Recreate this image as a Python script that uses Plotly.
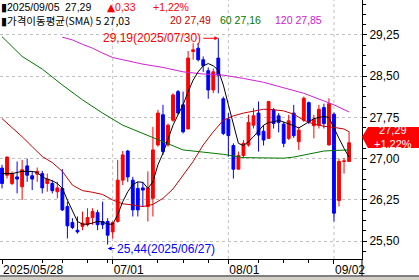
import plotly.graph_objects as go

# ---------------- data ----------------
open_ = [26.83, 26.70, 26.55, 26.67, 26.49, 26.87, 26.69, 26.72, 26.73, 26.55,
         26.55, 26.40, 26.46, 26.13, 25.84, 25.70, 25.77, 25.80, 25.93, 26.02,
         25.86, 25.86, 25.67, 25.86, 26.61, 27.14, 26.61, 26.46, 26.47, 26.13,
         26.28, 27.25, 27.80, 27.25, 27.70, 28.22, 27.98, 27.54, 28.95, 29.01,
         28.80, 28.60, 28.25, 28.83, 28.09, 27.72, 27.24, 26.81, 27.06, 27.25,
         27.61, 27.83, 27.50, 27.37, 27.89, 27.78, 27.63, 27.37, 27.83, 27.31,
         27.70, 28.02, 27.60, 27.61, 27.93, 27.25, 27.81, 26.24, 26.95, 26.95]
high = [26.89, 27.04, 26.77, 26.95, 26.98, 27.00, 26.77, 26.84, 26.78, 26.73,
        26.61, 26.58, 26.81, 26.22, 25.92, 25.95, 26.04, 26.10, 26.10, 26.07,
        26.22, 25.92, 25.86, 26.98, 27.14, 27.16, 26.67, 26.58, 26.58, 26.77,
        27.58, 27.89, 27.98, 27.64, 28.19, 28.25, 28.22, 28.96, 29.10, 29.10,
        28.86, 28.66, 28.64, 29.19, 28.13, 27.83, 27.28, 27.13, 27.34, 27.80,
        27.92, 28.04, 27.61, 28.05, 27.92, 27.83, 27.67, 27.80, 27.98, 27.58,
        28.13, 28.04, 27.80, 27.98, 28.00, 28.10, 27.84, 27.00, 27.01, 27.49]
low = [26.46, 26.64, 26.52, 26.37, 26.25, 26.58, 26.43, 26.58, 26.37, 26.40,
       26.37, 26.28, 26.05, 25.55, 25.72, 25.64, 25.70, 25.77, 25.80, 25.70,
       25.72, 25.44, 25.55, 25.84, 26.52, 26.58, 25.95, 25.95, 26.13, 25.86,
       25.95, 27.22, 27.07, 27.22, 27.67, 27.80, 27.46, 27.54, 28.80, 28.77,
       28.58, 28.09, 28.19, 28.19, 27.43, 27.04, 26.64, 26.80, 27.01, 27.22,
       27.55, 27.13, 27.24, 27.36, 27.55, 27.48, 27.21, 27.34, 27.38, 27.16,
       27.67, 27.63, 27.37, 27.55, 27.55, 27.24, 25.86, 26.13, 26.73, 26.95]
close = [26.55, 27.03, 26.73, 26.63, 26.80, 26.70, 26.63, 26.77, 26.47, 26.63,
         26.42, 26.47, 26.07, 25.78, 25.75, 25.67, 25.83, 25.93, 26.04, 25.80,
         25.80, 25.61, 25.84, 26.61, 27.07, 26.67, 26.07, 26.07, 26.43, 26.47,
         27.16, 27.83, 27.13, 27.61, 28.16, 27.83, 27.49, 28.83, 28.98, 28.80,
         28.69, 28.25, 28.58, 28.52, 27.46, 27.42, 26.81, 27.06, 27.28, 27.66,
         27.78, 27.43, 27.34, 28.04, 27.64, 27.66, 27.28, 27.69, 27.42, 27.52,
         28.10, 27.67, 27.72, 27.90, 27.64, 28.00, 26.01, 26.95, 26.96, 27.29]

ma5 = [26.73, 26.73, 26.73, 26.75, 26.77, 26.77, 26.77, 26.75, 26.67, 26.63,
       26.60, 26.55, 26.46, 26.25, 26.04, 25.86, 25.81, 25.81, 25.83, 25.86,
       25.85, 25.81, 25.81, 25.98, 26.22, 26.40, 26.53, 26.58, 26.57, 26.46,
       26.58, 26.89, 27.10, 27.37, 27.61, 27.80, 27.98, 28.22, 28.43, 28.58,
       28.69, 28.73, 28.69, 28.61, 28.34, 27.98, 27.61, 27.28, 27.24, 27.31,
       27.40, 27.50, 27.61, 27.66, 27.67, 27.70, 27.67, 27.63, 27.60, 27.56,
       27.61, 27.67, 27.73, 27.75, 27.77, 27.75, 27.55, 27.37, 27.19, 27.03]

ma20_idx = [0, 2, 4, 6, 8, 10, 12, 14, 16, 18, 20, 22, 24, 26, 28, 30, 32, 34,
            36, 38, 40, 42, 44, 46, 48, 50, 52, 54, 56, 58, 60, 62, 64, 66, 68, 69]
ma20 = [27.73, 27.57, 27.40, 27.22, 27.04, 26.93, 26.77, 26.52, 26.42, 26.39,
        26.35, 26.25, 26.18, 26.16, 26.13, 26.17, 26.28, 26.45, 26.69, 26.95,
        27.25, 27.49, 27.70, 27.78, 27.83, 27.87, 27.90, 27.89, 27.87, 27.81,
        27.70, 27.63, 27.59, 27.57, 27.54, 27.49]

ma60_idx = [0, 4, 8, 12, 16, 20, 24, 28, 32, 34, 36, 40, 44, 48, 52, 56, 58,
            60, 62, 64, 66, 69]
ma60 = [29.22, 28.86, 28.63, 28.34, 28.07, 27.83, 27.61, 27.46, 27.31, 27.23,
        27.16, 27.12, 27.08, 27.02, 27.01, 27.01, 27.03, 27.07, 27.11, 27.14,
        27.15, 27.16]

ma120_idx = [12, 14, 16, 18, 20, 22, 24, 28, 32, 36, 40, 44, 48, 52, 56, 60,
             64, 66, 69]
ma120 = [29.21, 29.16, 29.08, 29.01, 28.92, 28.84, 28.80, 28.72, 28.66, 28.58,
         28.54, 28.52, 28.46, 28.39, 28.29, 28.19, 28.05, 27.98, 27.85]

tick_idx = [0, 22, 45, 66]
tick_text = ["2025/05/28", "07/01", "08/01", "09/02"]
minor_idx = [8, 12, 17, 21, 31, 36, 41, 51, 56, 61]
last_date = "2025/09/05"
hi_date = "2025/07/30"
lo_date = "2025/06/27"

# ---------------- styling helpers ----------------
FONT = "Liberation Sans Narrow, Arial Narrow, Liberation Sans, Noto Sans CJK KR, sans-serif"
KFONT = "Liberation Sans Narrow, Noto Sans CJK KR, sans-serif"
W, H = 362, 259          # plot area in px
RED, BLUE = "#FF0000", "#0000FF"
C20, C60, C120 = "#C80000", "#007800", "#D020D0"


def px(x):
    return x / W


def py(y):
    return (H - y) / H


def fmt(v):
    return f"{v:.2f}".replace(".", ",")


n = len(close)
idx = list(range(n))

fig = go.Figure()
fig.add_trace(go.Candlestick(
    x=idx, open=open_, high=high, low=low, close=close,
    increasing=dict(line=dict(color=RED, width=1), fillcolor=RED),
    decreasing=dict(line=dict(color=BLUE, width=1), fillcolor=BLUE),
    whiskerwidth=0, hoverinfo="skip"))
fig.add_trace(go.Scatter(x=ma120_idx, y=ma120, mode="lines", line=dict(color=C120, width=1)))
fig.add_trace(go.Scatter(x=ma60_idx, y=ma60, mode="lines", line=dict(color=C60, width=1)))
fig.add_trace(go.Scatter(x=ma20_idx, y=ma20, mode="lines", line=dict(color=C20, width=1)))
fig.add_trace(go.Scatter(x=idx, y=ma5, mode="lines", line=dict(color="black", width=1)))

shapes = []
for t in tick_idx[1:]:
    shapes.append(dict(type="line", xref="x", yref="paper", x0=t, x1=t, y0=0, y1=1,
                       line=dict(color="#c0c0c0", width=1, dash="3px,3px"), layer="below"))
# bottom frame
shapes.append(dict(type="line", xref="paper", yref="paper", x0=0, x1=px(419), y0=py(276), y1=py(276),
                   line=dict(color="black", width=1)))
shapes.append(dict(type="rect", xref="paper", yref="paper", x0=0, x1=px(419), y0=py(280), y1=py(277),
                   line=dict(width=0), fillcolor="#d4d0c8"))
shapes.append(dict(type="line", xref="paper", yref="paper", x0=1, x1=1, y0=py(259), y1=py(276),
                   line=dict(color="black", width=1)))
# current price tag
tag = [(362, 137), (368, 127), (419, 127), (419, 148), (368, 148)]
path = "M " + " L ".join(f"{px(a)},{py(b)}" for a, b in tag) + " Z"
shapes.append(dict(type="path", xref="paper", yref="paper", path=path,
                   fillcolor=RED, line=dict(width=0)))

chg = close[-1] - close[-2]
pct = chg / close[-2] * 100

annotations = []
LS = 10.5


def txt(s, x, y, color="black", size=LS, family=FONT):
    annotations.append(dict(text=s, xref="paper", yref="paper", x=px(x), y=py(y),
                            xanchor="left", yanchor="middle", showarrow=False, borderpad=0,
                            font=dict(size=size, color=color, family=family)))


Y1, Y2 = 6.6, 20.4
txt("▮" + last_date, 0, Y1)
txt(fmt(close[-1]), 64, Y1)
txt('<span style="font-family:DejaVu Sans">▲</span>' + fmt(abs(chg)), 106, Y1, RED)
txt("+" + fmt(pct) + "%", 152, Y1, RED)
txt("▮가격이동평균(SMA) 5 " + fmt(ma5[-1]), 0, Y2, family=KFONT)
txt("20 " + fmt(ma20[-1]), 169, Y2, C20)
txt("60 " + fmt(ma60[-1]), 219, Y2, C60)
txt("120 " + fmt(ma120[-1]), 274, Y2, C120)

annotations.append(dict(text=fmt(close[-1]) + "<br>+" + fmt(pct) + "%", xref="paper", yref="paper",
                        x=px(393), y=py(137.5), xanchor="center", yanchor="middle", showarrow=False,
                        font=dict(size=11, color="white", family=FONT)))

hi_i = max(idx, key=lambda i: high[i])
lo_i = min(idx, key=lambda i: low[i])
annotations.append(dict(text=fmt(high[hi_i]) + "(" + hi_date + ")", x=hi_i, y=high[hi_i],
                        xref="x", yref="y", ax=-15, ay=0, xanchor="right", yanchor="middle",
                        showarrow=True, arrowhead=2, arrowsize=0.8, arrowwidth=1, arrowcolor=RED,
                        standoff=0, font=dict(size=12, color=RED, family=FONT)))
annotations.append(dict(text=fmt(low[lo_i]) + "(" + lo_date + ")", x=lo_i, y=low[lo_i],
                        xref="x", yref="y", ax=7, ay=0, xanchor="left", yanchor="middle",
                        yshift=-4, showarrow=True, arrowhead=2, arrowsize=0.8, arrowwidth=1,
                        arrowcolor=BLUE, standoff=0, font=dict(size=12, color=BLUE, family=FONT)))

fig.update_layout(
    width=419, height=280, margin=dict(l=0, r=57, t=0, b=21),
    paper_bgcolor="white", plot_bgcolor="white", showlegend=False,
    separators=", ", boxgap=0.2,
    shapes=shapes, annotations=annotations,
    xaxis=dict(range=[-0.4, 71.57], tickmode="array", tickvals=tick_idx, ticktext=tick_text,
               ticks="outside", ticklen=4, tickcolor="black", showgrid=False, showline=True,
               linecolor="black", linewidth=1, zeroline=False, rangeslider=dict(visible=False),
               ticklabelposition="outside right",
               tickfont=dict(size=12, family=FONT, color="black"),
               minor=dict(tickmode="array", tickvals=minor_idx, ticks="outside", ticklen=3,
                          tickcolor="black", showgrid=False)),
    yaxis=dict(side="right", range=[25.177, 29.886], tick0=25.5, dtick=0.75, tickformat=".2f",
               ticks="outside", ticklen=4, tickcolor="black", showgrid=True, gridcolor="#c0c0c0",
               griddash="3px,3px", gridwidth=1, showline=True, linecolor="black", linewidth=1,
               zeroline=False, tickfont=dict(size=12, family=FONT, color="black"),
               minor=dict(tick0=25.5, dtick=0.1875, ticks="outside", ticklen=3,
                          tickcolor="black", showgrid=False)),
)

fig.write_html("out.html")
